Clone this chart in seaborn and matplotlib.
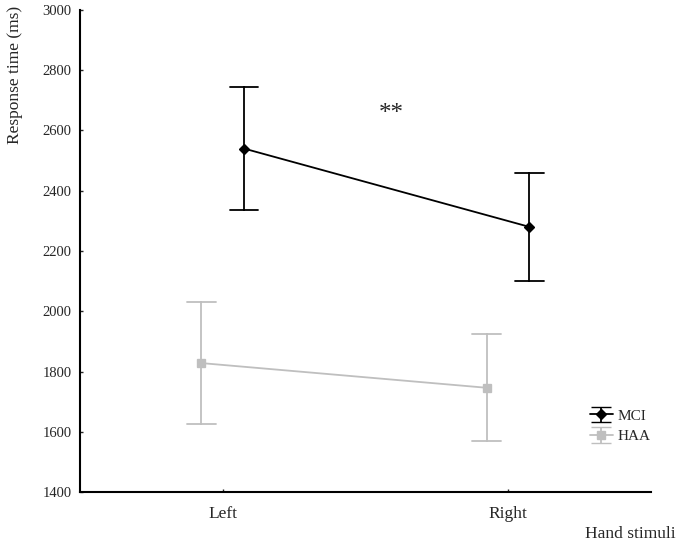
import numpy as np
import pandas as pd
import matplotlib
matplotlib.use("Agg")
import matplotlib.pyplot as plt
import seaborn as sns

hands = ["Left", "Right"]
groups = ["MCI", "HAA"]
mci_mean = [2540, 2280]
mci_err = [204, 180]
haa_mean = [1828, 1746]
haa_err = [203, 177]

colors = {"MCI": "black", "HAA": "#bfbfbf"}

# two rows per cell (mean -/+ error) so the min/max errorbar gives the bars
rows = []
for g, means, errs in [("MCI", mci_mean, mci_err), ("HAA", haa_mean, haa_err)]:
    for h, m, e in zip(hands, means, errs):
        rows.append({"hand": h, "group": g, "rt": m - e})
        rows.append({"hand": h, "group": g, "rt": m + e})
df = pd.DataFrame(rows)

sns.set_style("ticks")
plt.rcParams["font.family"] = ["Liberation Serif", "DejaVu Serif"]
plt.rcParams["xtick.direction"] = "in"
plt.rcParams["ytick.direction"] = "in"

fig = plt.figure(figsize=(6.8, 5.45), dpi=100)
ax = fig.add_axes([0.1176, 0.0972, 0.8394, 0.8845])

sns.pointplot(data=df, x="hand", y="rt", hue="group", order=hands,
              hue_order=["HAA", "MCI"], palette=colors, markers=["s", "D"],
              dodge=0.15, errorbar=lambda v: (v.min(), v.max()),
              capsize=0.1, linewidth=1.3, markersize=5,
              err_kws={"linewidth": 1.3}, legend=False, ax=ax)
for ln in ax.lines:
    if ln.get_marker() == "s":
        ln.set_markersize(5.5)

ax.set_xlim(-0.5, 1.5)
ax.set_ylim(1400, 3000)
ax.set_yticks(range(1400, 3001, 200))
sns.despine(ax=ax)
for s in ["left", "bottom"]:
    ax.spines[s].set_linewidth(1.5)
    ax.spines[s].set_color("black")
ax.tick_params(axis="y", labelsize=10.5, length=2.5, width=1, pad=6)
ax.tick_params(axis="x", labelsize=12.5, length=2.5, width=1, pad=10)

ax.set_ylabel("Response time (ms)", fontsize=12.5, va="center")
ax.yaxis.set_label_coords(-0.114, 0.866)
ax.set_xlabel("Hand stimuli", fontsize=12.5, va="center")
ax.xaxis.set_label_coords(0.965, -0.088)

ax.text(0.59, 2655, "**", fontsize=18, ha="center", va="center")

# legend proxies with error-bar style handles
h1 = ax.errorbar([np.nan], [np.nan], yerr=[1], fmt="-D", color="black",
                 markersize=5, capsize=7.5, lw=1.3, label="MCI")
h2 = ax.errorbar([np.nan], [np.nan], yerr=[1], fmt="-s", color=colors["HAA"],
                 markersize=5.5, capsize=7.5, lw=1.3, label="HAA")
ax.legend(handles=[h1, h2], loc="upper left", bbox_to_anchor=(0.893, 0.172),
          frameon=False, fontsize=11, handlelength=1.5, handletextpad=0.3,
          borderpad=0, borderaxespad=0, labelspacing=0.45)

fig.savefig("out.png", dpi=100)
